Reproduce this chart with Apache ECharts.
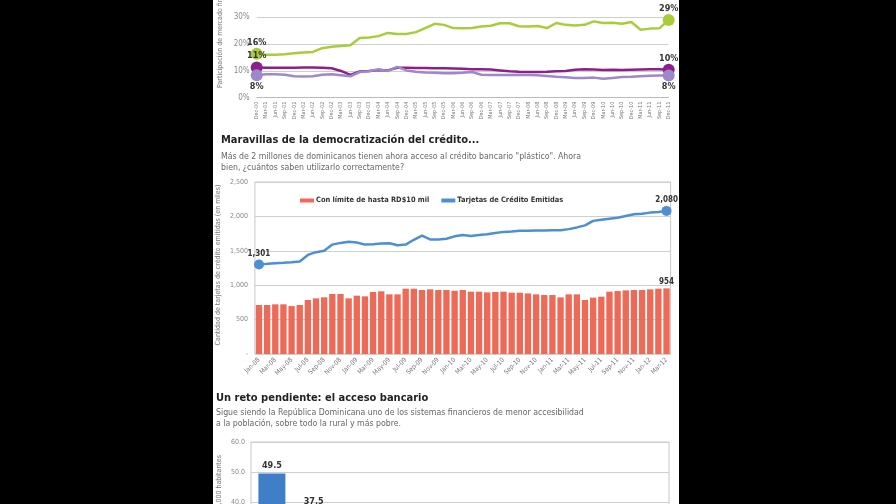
<!DOCTYPE html>
<html>
<head>
<meta charset="utf-8">
<script src="https://cdn.jsdelivr.net/npm/echarts@6/dist/echarts.min.js"></script>
<style>
  html, body { margin: 0; background: #000; overflow: hidden; width: 896px; height: 504px; }
  #chart { position: absolute; left: 213px; top: -40px; width: 466px; height: 700px; background: #fff; }
</style>
</head>
<body>
<div id="chart"></div>
<script>
const quarters = ['Dec-00','Mar-01','Jun-01','Sep-01','Dec-01','Mar-02','Jun-02','Sep-02','Dec-02',
  'Mar-03','Jun-03','Sep-03','Dec-03','Mar-04','Jun-04','Sep-04','Dec-04','Mar-05','Jun-05','Sep-05','Dec-05',
  'Mar-06','Jun-06','Sep-06','Dec-06','Mar-07','Jun-07','Sep-07','Dec-07','Mar-08','Jun-08','Sep-08','Dec-08',
  'Mar-09','Jun-09','Sep-09','Dec-09','Mar-10','Jun-10','Sep-10','Dec-10','Mar-11','Jun-11','Sep-11','Dec-11']

// participacion de mercado (%)
const shareGreen = [16.4,16.0,16.0,16.2,16.6,16.9,17.1,18.5,19.0,19.3,19.6,22.3,22.5,23.0,24.2,23.8,23.8,24.5,26.0,27.6,27.2,
  26.0,25.9,26.0,26.6,26.9,27.8,27.8,26.7,26.6,26.8,26.0,27.9,27.2,27.0,27.2,28.5,27.9,28.0,27.6,28.3,25.4,25.8,25.9,29.0]
const shareMagenta = [11.3,11.2,11.2,11.2,11.2,11.3,11.3,11.2,11.0,10.0,8.5,9.8,10.0,10.3,10.2,11.2,11.2,11.1,11.1,11.0,11.0,
  10.9,10.8,10.6,10.6,10.5,10.2,9.9,9.7,9.6,9.6,9.7,9.9,10.0,10.4,10.6,10.5,10.3,10.4,10.3,10.4,10.5,10.6,10.6,10.4]
const shareLilac = [8.4,8.8,8.8,8.6,8.0,7.9,8.0,8.6,8.8,8.4,8.0,9.6,9.9,10.6,10.0,11.5,10.2,9.7,9.4,9.3,9.1,
  9.1,9.3,9.6,8.6,8.5,8.5,8.5,8.6,8.5,8.4,8.1,7.8,7.6,7.4,7.4,7.5,7.1,7.4,7.7,7.8,8.0,8.2,8.3,8.3]

const months = ['Jan-08','Feb-08','Mar-08','Apr-08','May-08','Jun-08','Jul-08','Aug-08','Sep-08','Oct-08','Nov-08','Dec-08',
  'Jan-09','Feb-09','Mar-09','Apr-09','May-09','Jun-09','Jul-09','Aug-09','Sep-09','Oct-09','Nov-09','Dec-09',
  'Jan-10','Feb-10','Mar-10','Apr-10','May-10','Jun-10','Jul-10','Aug-10','Sep-10','Oct-10','Nov-10','Dec-10',
  'Jan-11','Feb-11','Mar-11','Apr-11','May-11','Jun-11','Jul-11','Aug-11','Sep-11','Oct-11','Nov-11','Dec-11',
  'Jan-12','Feb-12','Mar-12']

// tarjetas (en miles)
const cardsLimit10 = [712,712,722,722,697,712,785,809,824,872,872,809,848,838,901,911,867,867,949,949,930,940,930,930,
  920,930,906,906,896,901,906,891,891,881,867,857,857,823,867,867,785,819,833,906,915,925,930,930,940,950,954]
const cardsIssued = [1301,1310,1318,1326,1335,1345,1440,1480,1500,1590,1615,1630,1620,1590,1595,1605,1610,1580,1590,1660,
  1720,1665,1665,1675,1710,1730,1715,1730,1740,1760,1775,1780,1790,1790,1795,1795,1800,1800,1815,1840,1870,1935,1950,
  1965,1980,2005,2030,2040,2055,2065,2080]

// acceso bancario (solo las dos primeras barras se ven)
const bankCategories = ['', '']
const bankValues = [49.5, 37.5]

const FONT = "'Liberation Sans Narrow', 'DejaVu Sans Condensed', 'Liberation Sans', sans-serif"

// marca grande y etiqueta solo en el primer y ultimo punto
const withEnds = (values, size, firstPos, lastPos) => values.map((v, i) => {
  if (i === 0 || i === values.length - 1) {
    return { value: v, symbol: 'circle', symbolSize: size, label: { show: true, position: i === 0 ? firstPos : lastPos } }
  }
  return v
})

const pctLabel = {
  show: false, distance: 1, fontFamily: FONT, fontSize: 9, fontWeight: 'bold', color: '#333',
  formatter: (p) => Math.round(p.value) + '%'
}

const shareSeries = (name, values, color, firstPos, lastPos) => ({
  name: name,
  type: 'line',
  xAxisIndex: 0,
  yAxisIndex: 0,
  data: withEnds(values, 12, firstPos, lastPos),
  symbol: 'circle',
  symbolSize: 0,
  showAllSymbol: true,
  lineStyle: { color: color, width: 2.5 },
  itemStyle: { color: color },
  label: pctLabel,
  silent: true
})

const chart = echarts.init(document.getElementById('chart'))

chart.setOption({
  animation: false,
  backgroundColor: '#fff',
  textStyle: { fontFamily: FONT },
  title: [
    {
      text: 'Maravillas de la democratización del crédito...',
      left: 8, top: 175, padding: 0,
      textStyle: { fontFamily: FONT, fontSize: 11, fontWeight: 'bold', color: '#222' }
    },
    {
      text: 'Más de 2 millones de dominicanos tienen ahora acceso al crédito bancario "plástico". Ahora\nbien, ¿cuántos saben utilizarlo correctamente?',
      left: 8, top: 191.5, padding: 0,
      textStyle: { fontFamily: FONT, fontSize: 8.7, fontWeight: 'normal', color: '#666', lineHeight: 11 }
    },
    {
      text: 'Un reto pendiente: el acceso bancario',
      left: 3, top: 433, padding: 0,
      textStyle: { fontFamily: FONT, fontSize: 11, fontWeight: 'bold', color: '#222' }
    },
    {
      text: 'Sigue siendo la República Dominicana uno de los sistemas financieros de menor accesibilidad\na la población, sobre todo la rural y más pobre.',
      left: 3, top: 447.5, padding: 0,
      textStyle: { fontFamily: FONT, fontSize: 8.7, fontWeight: 'normal', color: '#666', lineHeight: 11 }
    }
  ],
  graphic: [
    {
      type: 'text', x: 7, y: 128, rotation: Math.PI / 2, silent: true,
      style: { text: 'Participación de mercado financiero (%)', font: '7px ' + FONT, fill: '#777', textAlign: 'left', textVerticalAlign: 'middle' }
    },
    {
      type: 'text', x: 5, y: 305, rotation: Math.PI / 2, silent: true,
      style: { text: 'Cantidad de tarjetas de crédito emitidas (en miles)', font: '7px ' + FONT, fill: '#777', textAlign: 'center', textVerticalAlign: 'middle' }
    },
    {
      type: 'text', x: 6, y: 495, rotation: Math.PI / 2, silent: true,
      style: { text: 'Sucursales por cada 100,000 habitantes', font: '7px ' + FONT, fill: '#777', textAlign: 'right', textVerticalAlign: 'middle' }
    }
  ],
  legend: {
    data: [
      { name: 'Con límite de hasta RD$10 mil', icon: 'rect' },
      { name: 'Tarjetas de Crédito Emitidas', icon: 'rect' }
    ],
    left: 87,
    top: 237,
    itemWidth: 14,
    itemHeight: 4,
    itemGap: 12,
    padding: 0,
    selectedMode: false,
    textStyle: { fontFamily: FONT, fontSize: 7.4, fontWeight: 'bold', color: '#333', padding: [0, 0, 0, -3] }
  },
  grid: [
    { left: 43.7, right: 10.3, top: 30.6, height: 107.1 },
    { left: 41.9, right: 8.4, top: 222, height: 172, show: true, borderColor: '#c8c8c8', borderWidth: 1 },
    { left: 38, right: 10, top: 482, height: 180, show: true, borderColor: '#c8c8c8', borderWidth: 1 }
  ],
  xAxis: [
    {
      gridIndex: 0, type: 'category', data: quarters, boundaryGap: false,
      axisLine: { lineStyle: { color: '#bbb' } },
      axisTick: { show: false },
      axisLabel: { interval: 0, rotate: 90, fontSize: 5.5, color: '#777', margin: 4 }
    },
    {
      gridIndex: 1, type: 'category', data: months, boundaryGap: true,
      axisLine: { show: false },
      axisTick: { show: false },
      axisLabel: { interval: 1, rotate: 45, fontSize: 6.5, color: '#777', margin: 5 }
    },
    {
      gridIndex: 2, type: 'category', data: bankCategories, max: 9, boundaryGap: true,
      axisLine: { show: false },
      axisTick: { show: false },
      axisLabel: { show: false }
    }
  ],
  yAxis: [
    {
      gridIndex: 0, type: 'value', min: 0, max: 40, interval: 10,
      axisLine: { show: false }, axisTick: { show: false },
      axisLabel: { formatter: '{value}%', fontSize: 8, color: '#888', margin: 7 },
      splitLine: { lineStyle: { color: '#cfcfcf' } }
    },
    {
      gridIndex: 1, type: 'value', min: 0, max: 2500, interval: 500,
      axisLine: { show: false }, axisTick: { show: false },
      axisLabel: {
        fontSize: 7, color: '#888', margin: 7,
        formatter: (v) => v === 0 ? '-' : v.toLocaleString('en-US')
      },
      splitLine: { lineStyle: { color: '#cfcfcf' } }
    },
    {
      gridIndex: 2, type: 'value', min: 0, max: 60, interval: 10,
      axisLine: { show: false }, axisTick: { show: false },
      axisLabel: { fontSize: 7, color: '#888', margin: 6, formatter: (v) => v.toFixed(1) },
      splitLine: { lineStyle: { color: '#cfcfcf' } }
    }
  ],
  series: [
    shareSeries('Verde', shareGreen, '#a9cd3a', 'top', 'top'),
    shareSeries('Morado', shareMagenta, '#8d1f8b', 'top', 'top'),
    shareSeries('Lila', shareLilac, '#9d88cb', 'bottom', 'bottom'),
    {
      name: 'Con límite de hasta RD$10 mil',
      type: 'bar',
      xAxisIndex: 1,
      yAxisIndex: 1,
      barCategoryGap: '22%',
      itemStyle: { color: '#ee6a58' },
      data: cardsLimit10.map((v, i) => i === cardsLimit10.length - 1
        ? { value: v, label: { show: true } }
        : v),
      label: { show: false, position: 'top', distance: 2, fontSize: 8, fontWeight: 'bold', color: '#333' },
      silent: true
    },
    {
      name: 'Tarjetas de Crédito Emitidas',
      type: 'line',
      xAxisIndex: 1,
      yAxisIndex: 1,
      data: withEnds(cardsIssued, 10, 'top', 'top'),
      symbol: 'circle',
      symbolSize: 0,
      showAllSymbol: true,
      lineStyle: { color: '#4d8fd1', width: 2.5 },
      itemStyle: { color: '#4d8fd1' },
      label: {
        show: false, distance: 2, fontSize: 8, fontWeight: 'bold', color: '#333',
        formatter: (p) => p.value.toLocaleString('en-US')
      },
      silent: true
    },
    {
      name: 'Acceso bancario',
      type: 'bar',
      xAxisIndex: 2,
      yAxisIndex: 2,
      barWidth: 27,
      itemStyle: { color: '#3f7fc8' },
      data: bankValues,
      label: { show: true, position: 'top', distance: 3, fontSize: 9, fontWeight: 'bold', color: '#333', formatter: (p) => p.value.toFixed(1) },
      silent: true
    }
  ]
})

window.addEventListener('resize', () => chart.resize())
</script>
</body>
</html>
